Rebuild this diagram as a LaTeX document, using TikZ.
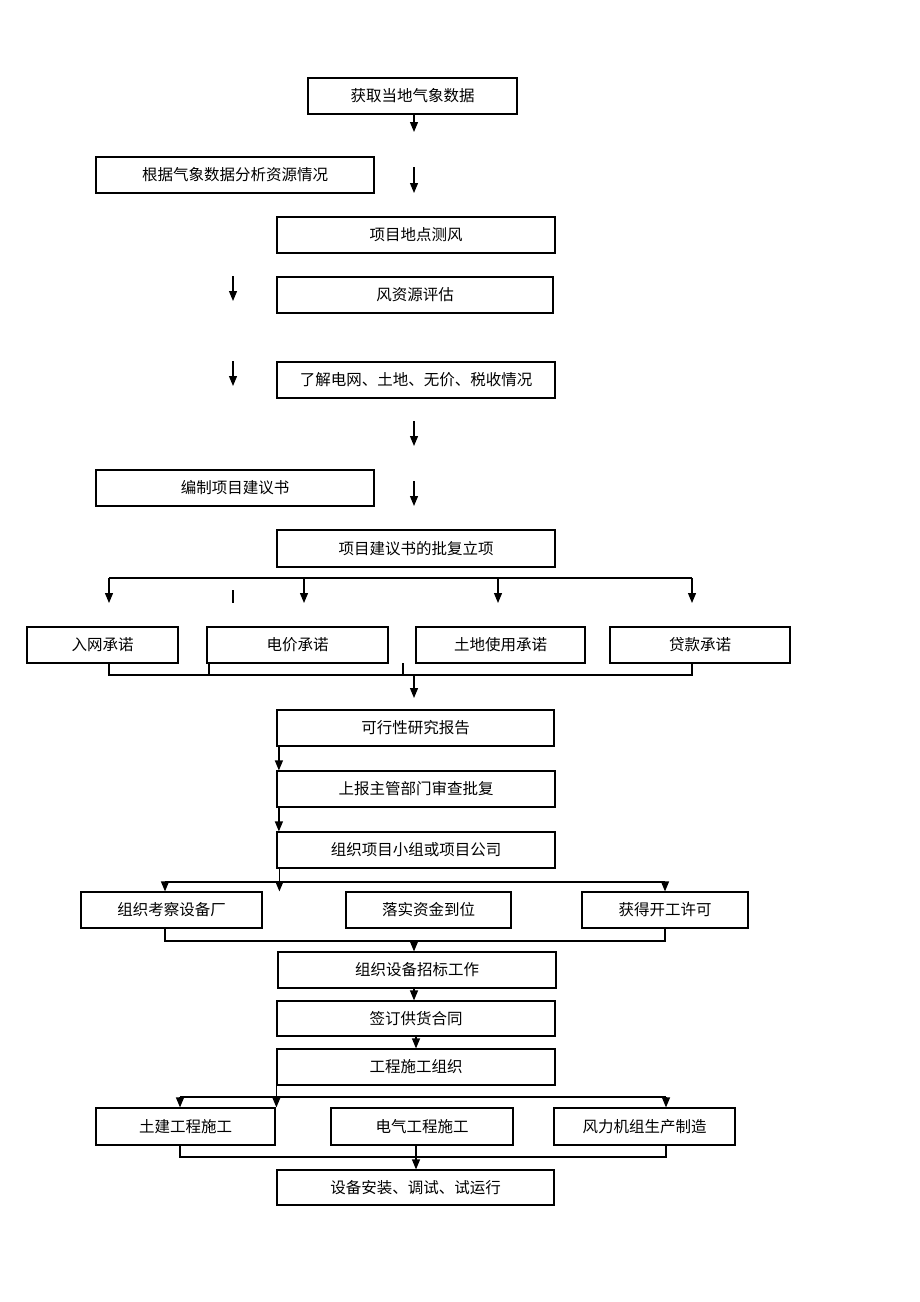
\documentclass[tikz,border=0pt]{standalone}
\usepackage{fontspec}
\newfontfamily\cjk{Noto Sans CJK SC}
\usetikzlibrary{arrows.meta}

\begin{document}
\begin{tikzpicture}[x=1pt,y=-1pt,
  box/.style={rectangle,draw,line width=1.2pt,minimum height=36pt,inner sep=0pt,
    font=\cjk\fontsize{15.5}{17}\selectfont},
  arr/.style={line width=1.2pt,-{Triangle[length=10pt,width=8pt]}},
  lin/.style={line width=1.2pt}]
\useasboundingbox (0,0) rectangle (920,1302);
\node[box,minimum width=209pt] (weather) at (412.5,96) {获取当地气象数据};
\node[box,minimum width=278pt] (analysis) at (235,175) {根据气象数据分析资源情况};
\node[box,minimum width=278pt] (windtest) at (416,235) {项目地点测风};
\node[box,minimum width=276pt] (assess) at (415,295) {风资源评估};
\node[box,minimum width=278pt] (survey) at (416,380) {了解电网、土地、无价、税收情况};
\node[box,minimum width=278pt] (proposal) at (235,488) {编制项目建议书};
\node[box,minimum width=278pt,minimum height=37pt] (approval) at (416,548.5) {项目建议书的批复立项};
\node[box,minimum width=151pt] (grid) at (102.5,645) {入网承诺};
\node[box,minimum width=181pt] (price) at (297.5,645) {电价承诺};
\node[box,minimum width=169pt] (land) at (500.5,645) {土地使用承诺};
\node[box,minimum width=180pt] (loan) at (700,645) {贷款承诺};
\node[box,minimum width=277pt] (feas) at (415.5,728) {可行性研究报告};
\node[box,minimum width=278pt] (report) at (416,789) {上报主管部门审查批复};
\node[box,minimum width=278pt] (team) at (416,850) {组织项目小组或项目公司};
\node[box,minimum width=181pt] (factory) at (171.5,910) {组织考察设备厂};
\node[box,minimum width=165pt] (funds) at (428.5,910) {落实资金到位};
\node[box,minimum width=166pt] (permit) at (665,910) {获得开工许可};
\node[box,minimum width=278pt] (bidding) at (417,970) {组织设备招标工作};
\node[box,minimum width=278pt,minimum height=35pt] (contract) at (416,1018.5) {签订供货合同};
\node[box,minimum width=278pt] (construct) at (416,1067) {工程施工组织};
\node[box,minimum width=179pt,minimum height=37pt] (civil) at (185.5,1126.5) {土建工程施工};
\node[box,minimum width=182pt,minimum height=37pt] (elec) at (422,1126.5) {电气工程施工};
\node[box,minimum width=181pt,minimum height=37pt] (wtg) at (644.5,1126.5) {风力机组生产制造};
\node[box,minimum width=277pt,minimum height=35pt] (install) at (415.5,1187.5) {设备安装、调试、试运行};

\coordinate (a1) at (414,132);
\coordinate (a2s) at (414,167);  \coordinate (a2) at (414,193);
\coordinate (a3s) at (233,276);  \coordinate (a3) at (233,301);
\coordinate (a4s) at (233,361);  \coordinate (a4) at (233,386);
\coordinate (a5s) at (414,421);  \coordinate (a5) at (414,446);
\coordinate (a6s) at (414,481);  \coordinate (a6) at (414,506);
\coordinate (bl) at (109,578);   \coordinate (br) at (692,578);
\coordinate (ml) at (109,675);   \coordinate (mr) at (692,675);
\coordinate (mm) at (414,675);   \coordinate (mt) at (414,698);
\coordinate (tl) at (165,882);   \coordinate (tr) at (665,882);
\coordinate (fl) at (165,941);   \coordinate (fr) at (665,941);
\coordinate (cl) at (180,1097);  \coordinate (cr) at (666,1097);
\coordinate (el) at (180,1157);  \coordinate (er) at (666,1157);

\draw[arr] (weather.south -| a1) -- (a1);
\draw[arr] (a2s) -- (a2);
\draw[arr] (a3s) -- (a3);
\draw[arr] (a4s) -- (a4);
\draw[arr] (a5s) -- (a5);
\draw[arr] (a6s) -- (a6);

\draw[lin] (bl) -- (br);
\foreach \x in {109,304,498,692}
  \draw[arr] (\x,578) -- (\x,603);
\draw[lin] (233,590) -- (233,603);

\draw[lin] (grid.south -| ml) -- (ml) -- (mr) -- (loan.south -| mr);
\draw[lin] (209,663) -- (209,675);
\draw[lin] (403,663) -- (403,675);
\draw[arr] (mm) -- (mt);

\draw[arr] ([xshift=2.5pt]feas.south west) -- ([xshift=2.5pt]report.north west);
\draw[arr] ([xshift=2.5pt]report.south west) -- ([xshift=2.5pt]team.north west);
\draw[arr] ([xshift=3pt]team.south west) -- ([xshift=3pt]team.south west |- factory.north);
\draw[lin] (tl) -- (tr);
\draw[arr] (tl) -- (factory.north -| tl);
\draw[arr] (tr) -- (permit.north -| tr);

\draw[lin] (factory.south -| fl) -- (fl) -- (fr) -- (permit.south -| fr);
\draw[arr] (mm |- fl) -- (mm |- bidding.north);
\draw[arr] (bidding.south -| mm) -- (contract.north -| mm);
\draw[arr] (contract.south) -- (construct.north);

\draw[arr] (construct.south west) -- (construct.south west |- civil.north);
\draw[lin] (cl) -- (cr);
\draw[arr] (cl) -- (civil.north -| cl);
\draw[arr] (cr) -- (wtg.north -| cr);

\draw[lin] (civil.south -| el) -- (el) -- (er) -- (wtg.south -| er);
\draw[arr] (elec.south -| contract.south) -- (install.north -| contract.south);
\end{tikzpicture}
\end{document}
